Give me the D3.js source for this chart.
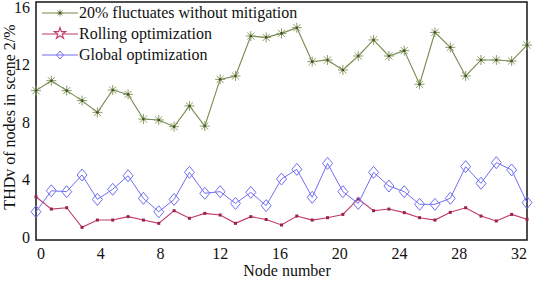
<!DOCTYPE html>
<html>
<head>
<meta charset="utf-8">
<script src="https://cdn.jsdelivr.net/npm/d3@7"></script>
<style>
  body { margin: 0; background: #fff; }
  svg { display: block; }
  svg text { font-family: 'Liberation Serif', 'Times New Roman', Times, 'DejaVu Serif', serif !important; }
</style>
</head>
<body>
<svg id="chart"></svg>
<script>
var nodes = d3.range(0, 33);
var xTicks = [0, 4, 8, 12, 16, 20, 24, 28, 32];
var yTicks = [0, 4, 8, 12, 16];
var seriesNames = ['20% fluctuates without mitigation', 'Rolling optimization', 'Global optimization'];

var noMitigation = [10.04, 10.71, 10.04, 9.37, 8.58, 10.08, 9.79, 8.13, 8.07, 7.62, 9.01, 7.66,
  10.8, 11.03, 13.71, 13.62, 13.89, 14.27, 11.99, 12.1, 11.43, 12.37, 13.45, 12.37, 12.73,
  10.47, 13.96, 12.95, 11.03, 12.1, 12.1, 12.03, 13.1];
var rolling = [2.91, 2.08, 2.17, 0.85, 1.34, 1.34, 1.57, 1.34, 1.12, 1.97, 1.46, 1.79,
  1.68, 1.12, 1.57, 1.38, 1.01, 1.61, 1.34, 1.5, 1.72, 2.76, 1.97, 2.08, 1.84,
  1.5, 1.34, 1.86, 2.17, 1.61, 1.28, 1.72, 1.39];
var globalOpt = [1.9, 3.31, 3.25, 4.37, 2.73, 3.41, 4.32, 2.8, 1.9, 2.73, 4.55, 3.14,
  3.25, 2.46, 3.2, 2.31, 4.1, 4.75, 2.87, 5.15, 3.25, 2.46, 4.55, 3.63, 3.25,
  2.4, 2.4, 2.8, 4.93, 3.81, 5.2, 4.71, 2.51];

var W = 533, H = 282;
var L = 36, R = 527, T = 2, B = 240;
var serif = "'Liberation Serif', 'Times New Roman', Times, serif";

var svg = d3.select('#chart').attr('width', W).attr('height', H).attr('font-family', serif);

var x = d3.scaleLinear().domain([0, 32]).range([L, R]);
var y = d3.scaleLinear().domain([0, 16]).range([B, T]);
// tick labels in the source sit slightly off the data grid
var xLab = d3.scaleLinear().domain([0, 32]).range([40.5, 518.5]);
var yLab = d3.scaleLinear().domain([0, 16]).range([237, 7]);

var green = '#75894d', greenMark = '#8a9c66', greenDot = '#3f5222';
var red = '#c2386b';
var blue = '#6f6ff2';

// axes (labels only)
var gx = svg.append('g').attr('transform', 'translate(0,' + (B + 4) + ')')
  .call(d3.axisBottom(xLab).tickValues(xTicks).tickSize(0).tickPadding(0));
gx.attr('font-family', serif).attr('font-size', 16);
gx.select('.domain').remove();
gx.selectAll('text').attr('fill', '#111').attr('dy', '0.95em');

var gy = svg.append('g').attr('transform', 'translate(' + (L - 6) + ',0)')
  .call(d3.axisLeft(yLab).tickValues(yTicks).tickSize(0).tickPadding(0));
gy.attr('font-family', serif).attr('font-size', 16);
gy.select('.domain').remove();
gy.selectAll('text').attr('fill', '#111');

// frame
svg.append('rect').attr('x', L).attr('y', T).attr('width', R - L).attr('height', B - T)
  .attr('fill', 'none').attr('stroke', '#222').attr('stroke-width', 1.6);

svg.append('text').attr('x', 287).attr('y', 276).attr('text-anchor', 'middle')
  .attr('font-size', 16).attr('fill', '#111').text('Node number');
svg.append('text').attr('transform', 'translate(15,117) rotate(-90)').attr('text-anchor', 'middle')
  .attr('font-size', 16).attr('fill', '#111').text('THDv of nodes in scene 2/%');

var line = d3.line().x(function (d, i) { return x(nodes[i]); }).y(function (d) { return y(d); });

function asterisk(g, cx, cy, r) {
  d3.range(4).forEach(function (k) {
    var a = k * Math.PI / 4;
    g.append('line')
      .attr('x1', cx - r * Math.cos(a)).attr('y1', cy - r * Math.sin(a))
      .attr('x2', cx + r * Math.cos(a)).attr('y2', cy + r * Math.sin(a))
      .attr('stroke', greenMark).attr('stroke-width', 1);
  });
  g.append('circle').attr('cx', cx).attr('cy', cy).attr('r', 1.3).attr('fill', greenDot);
}
function diamond(g, cx, cy, w, h) {
  g.append('path').attr('d', 'M' + cx + ',' + (cy - h / 2) + 'L' + (cx + w / 2) + ',' + cy +
    'L' + cx + ',' + (cy + h / 2) + 'L' + (cx - w / 2) + ',' + cy + 'Z')
    .attr('fill', 'none').attr('stroke', blue).attr('stroke-width', 1);
}

var plot = svg.append('g');

// rolling
plot.append('path').datum(rolling).attr('d', line).attr('fill', 'none').attr('stroke', red).attr('stroke-width', 1.1);
plot.selectAll('.rdot').data(rolling).enter().append('rect').attr('class', 'rdot')
  .attr('x', function (d, i) { return x(nodes[i]) - 1.5; }).attr('y', function (d) { return y(d) - 1.5; })
  .attr('width', 3).attr('height', 3).attr('fill', '#9a2050');

// global
plot.append('path').datum(globalOpt).attr('d', line).attr('fill', 'none').attr('stroke', blue).attr('stroke-width', 1);
globalOpt.forEach(function (d, i) { diamond(plot, x(nodes[i]), y(d), 10, 12); });

// no mitigation
plot.append('path').datum(noMitigation).attr('d', line).attr('fill', 'none').attr('stroke', green).attr('stroke-width', 1.1);
noMitigation.forEach(function (d, i) { asterisk(plot, x(nodes[i]), y(d), 5); });

// legend
var legY = [13, 34, 55];
var leg = svg.append('g');
seriesNames.forEach(function (name, k) {
  var col = [green, red, blue][k];
  leg.append('line').attr('x1', 42).attr('x2', 78).attr('y1', legY[k]).attr('y2', legY[k])
    .attr('stroke', col).attr('stroke-width', 1.1);
  leg.append('text').attr('x', 79).attr('y', legY[k]).attr('dy', '0.33em')
    .attr('font-size', 16).attr('fill', '#111').text(name);
});
asterisk(leg, 60, legY[0], 3.5);
var star = d3.symbol().type(d3.symbolStar).size(40);
leg.append('path').attr('d', star).attr('transform', 'translate(60,' + (legY[1] - 0.5) + ')')
  .attr('fill', '#fff').attr('stroke', red).attr('stroke-width', 1.1);
diamond(leg, 60, legY[2], 7, 8);
</script>
</body>
</html>
